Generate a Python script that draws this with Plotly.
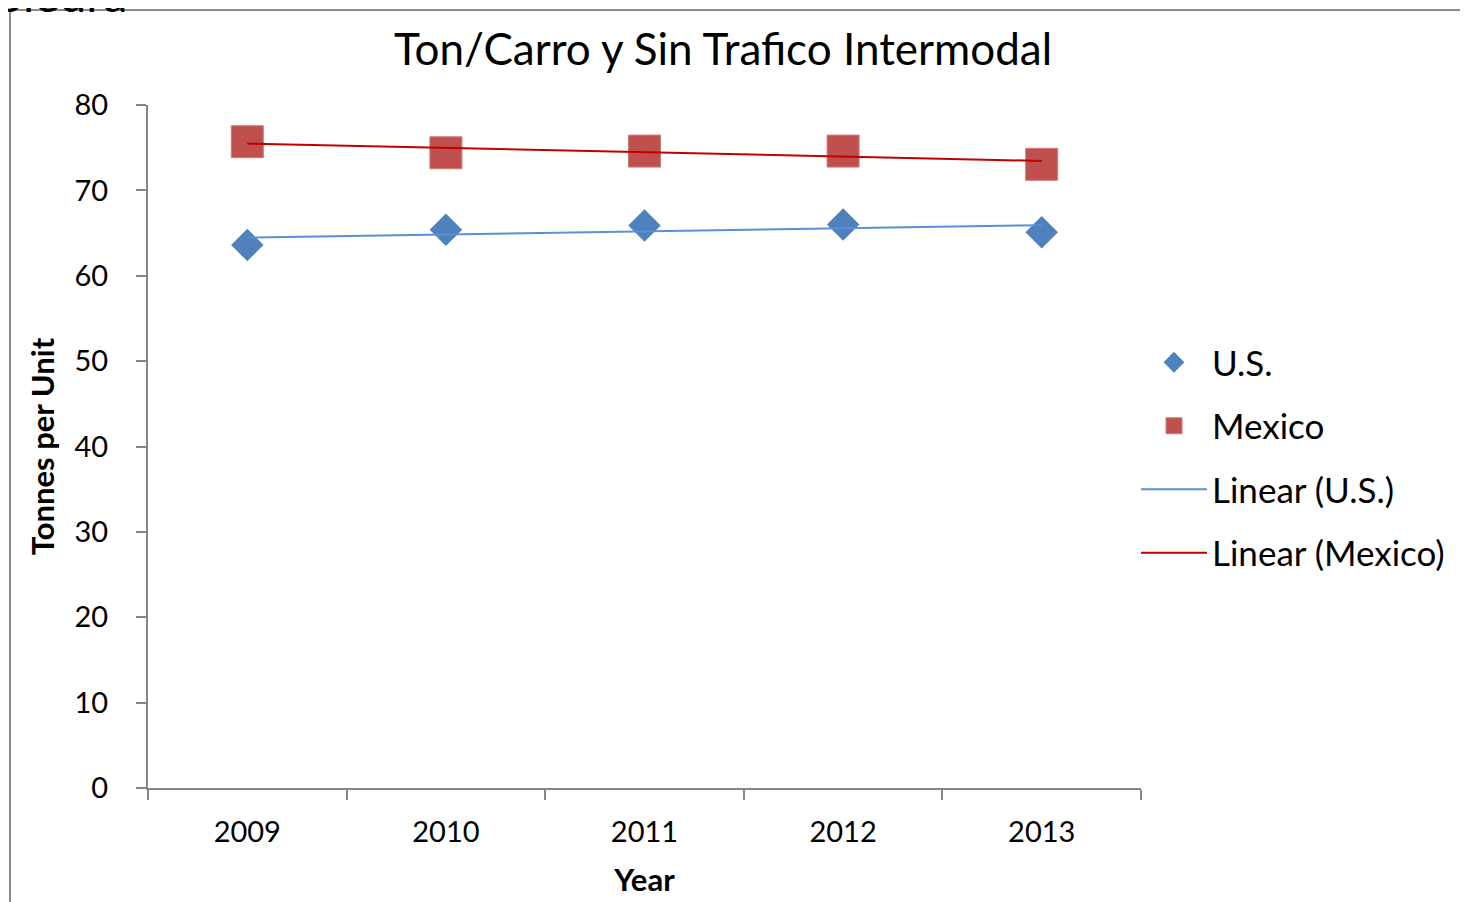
import numpy as np
import plotly.graph_objects as go

# ---- data ----
years = ["2009", "2010", "2011", "2012", "2013"]
us_values = [63.6, 65.4, 65.9, 66.0, 65.1]
mexico_values = [75.7, 74.4, 74.6, 74.6, 73.05]
y_ticks = [0, 10, 20, 30, 40, 50, 60, 70, 80]

title_text = "Ton/Carro y Sin Trafico Intermodal"
y_title = "Tonnes per Unit"
x_title = "Year"

# linear trendlines (least squares over category index, like Excel)
idx = np.arange(len(years))
us_fit = np.polyval(np.polyfit(idx, us_values, 1), idx)
mx_fit = np.polyval(np.polyfit(idx, mexico_values, 1), idx)

OFF = 8  # page body margin
W, H = 1468 - OFF, 902 - OFF
# plot area in page pixels
L, R, T, B = 148 - OFF, 1141 - OFF, 105 - OFF, 788 - OFF


def px_x(p):
    return (p - OFF - L) / (R - L)


def px_y(p):
    return (B - (p - OFF)) / (B - T)


FONT = "Lato, 'Open Sans', sans-serif"
AXIS_COLOR = "#868686"

fig = go.Figure()
fig.add_trace(go.Scatter(
    x=years, y=us_values, mode="markers", name="U.S.", legendgroup="a",
    marker=dict(symbol="diamond", size=25, color="#4F81BD",
                line=dict(width=0)),
))
fig.add_trace(go.Scatter(
    x=years, y=mexico_values, mode="markers", name="Mexico", legendgroup="b",
    marker=dict(symbol="square", size=32, color="#C0504D",
                line=dict(width=1, color="#D07A78")),
))
fig.add_trace(go.Scatter(
    x=years, y=us_fit, mode="lines", name="Linear (U.S.)", legendgroup="c",
    line=dict(color="#5B8FD6", width=2),
))
fig.add_trace(go.Scatter(
    x=years, y=mx_fit, mode="lines", name="Linear (Mexico)", legendgroup="d",
    line=dict(color="#C00000", width=2),
))

fig.update_layout(
    width=W, height=H,
    margin=dict(l=L, r=W - R, t=T, b=H - B, pad=0, autoexpand=False),
    paper_bgcolor="white", plot_bgcolor="white",
    font=dict(family=FONT, color="black"),
    title=dict(text=title_text, x=(723 - OFF) / W, xanchor="center",
               y=1 - (50 - OFF) / H, yanchor="middle",
               font=dict(size=44, family=FONT, color="black")),
    showlegend=True,
    legend=dict(x=px_x(1136), xanchor="left", y=px_y(333), yanchor="top",
                font=dict(size=35, family=FONT, color="black"),
                tracegroupgap=15, traceorder="grouped",
                bgcolor="rgba(0,0,0,0)", itemwidth=66),
    xaxis=dict(
        type="category", range=[-0.5, len(years) - 0.5],
        automargin=False,
        showline=True, linecolor=AXIS_COLOR, linewidth=2,
        ticks="outside", tickson="boundaries", ticklen=10,
        tickcolor=AXIS_COLOR, tickwidth=2,
        showgrid=False, zeroline=False,
        ticklabelstandoff=17,
        tickfont=dict(size=29, family=FONT, color="black"),
        title=dict(text="<b>" + x_title + "</b>", standoff=23,
                   font=dict(size=31, family=FONT, color="black")),
    ),
    yaxis=dict(
        range=[0, 80], tickvals=y_ticks,
        automargin=False,
        showline=True, linecolor=AXIS_COLOR, linewidth=2,
        ticks="outside", ticklen=10, tickcolor=AXIS_COLOR, tickwidth=2,
        showgrid=False, zeroline=False,
        ticklabelstandoff=22,
        tickfont=dict(size=29, family=FONT, color="black"),
        title=dict(text="<b>" + y_title + "</b>", standoff=11,
                   font=dict(size=31, family=FONT, color="black")),
    ),
)

# outer chart-area border (left and top edges visible)
fig.add_shape(type="line", xref="paper", yref="paper",
              x0=px_x(10), x1=px_x(10), y0=px_y(10), y1=px_y(920),
              line=dict(color="#8C8C8C", width=2))
fig.add_shape(type="line", xref="paper", yref="paper",
              x0=px_x(10), x1=px_x(1480), y0=px_y(10), y1=px_y(10),
              line=dict(color="#8C8C8C", width=2))

# clipped text from slide above (only its lower edge is visible)
fig.add_annotation(text="pleura", xref="paper", yref="paper",
                   x=px_x(-6), xanchor="left", y=px_y(24), yanchor="bottom",
                   showarrow=False,
                   font=dict(size=48, family=FONT, color="black"))

fig.write_html("out.html")
